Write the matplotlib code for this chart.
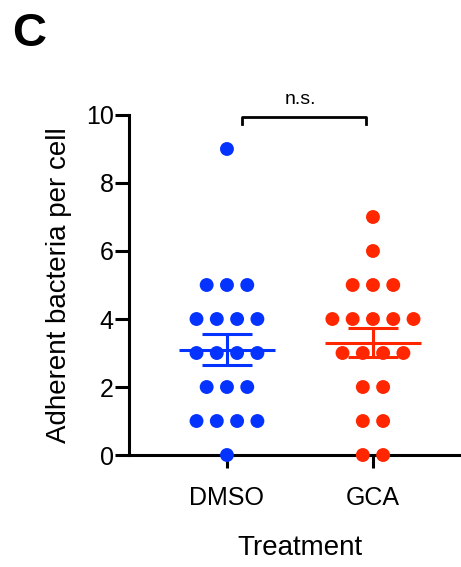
import numpy as np
import matplotlib
matplotlib.use("Agg")
import matplotlib.pyplot as plt

plt.rcParams['font.family'] = ['Liberation Sans', 'DejaVu Sans']

# data (adherent bacteria per cell)
groups = ['DMSO', 'GCA']
dmso = [9, 5, 5, 5, 4, 4, 4, 4, 3, 3, 3, 3, 2, 2, 2, 1, 1, 1, 1, 0]
gca = [7, 6, 5, 5, 5, 4, 4, 4, 4, 4, 3, 3, 3, 3, 2, 2, 1, 1, 0, 0]
colors = ['#0433FF', '#FF2600']
sig_label = 'n.s.'

fig = plt.figure(figsize=(4.61, 5.67), dpi=100)
ax = fig.add_axes([0.2798, 0.1975, 0.7202, 0.5997])

spacing = 0.139
for i, (vals, col) in enumerate(zip([dmso, gca], colors)):
    vals = np.array(vals)
    # simple beeswarm: spread points with the same value side by side
    for v in np.unique(vals):
        n = (vals == v).sum()
        xs = i + (np.arange(n) - (n - 1) / 2) * spacing
        ax.scatter(xs, [v] * n, s=100, color=col, edgecolors='none',
                   clip_on=False, zorder=3)
    m = vals.mean()
    sem = vals.std(ddof=1) / np.sqrt(len(vals))
    ax.plot([i - 0.33, i + 0.33], [m, m], color=col, lw=2.2, zorder=4,
            solid_capstyle='butt')
    ax.errorbar(i, m, yerr=sem, color=col, lw=2.2, capsize=18,
                capthick=2.2, zorder=4)

# significance bracket
y_br = 9.94
ax.plot([0.1, 0.1, 0.95, 0.95], [9.74, y_br, y_br, 9.74], color='black',
        lw=2, clip_on=False)
ax.text(0.5, 10.22, sig_label, ha='center', va='bottom', fontsize=14)

ax.set_xlim(-0.671, 1.603)
ax.set_ylim(0, 10)
ax.set_xticks([0, 1])
ax.set_xticklabels(groups, fontsize=18)
ax.set_yticks([0, 2, 4, 6, 8, 10])
ax.tick_params(axis='y', labelsize=18, width=2.2, length=10, pad=1)
ax.tick_params(axis='x', width=2.2, length=9, pad=13)
for s in ['top', 'right']:
    ax.spines[s].set_visible(False)
for s in ['left', 'bottom']:
    ax.spines[s].set_linewidth(2.2)

ax.set_ylabel('Adherent bacteria per cell', fontsize=20)
ax.yaxis.set_label_coords(-0.172, 0.5)
fig.text(300 / 461, 1 - 548 / 567, 'Treatment', ha='center', va='center',
         fontsize=20)
fig.text(12 / 461, 1 - 12 / 567, 'C', ha='left', va='top', fontsize=34,
         fontweight='bold')

fig.savefig('out.png', dpi=100)
